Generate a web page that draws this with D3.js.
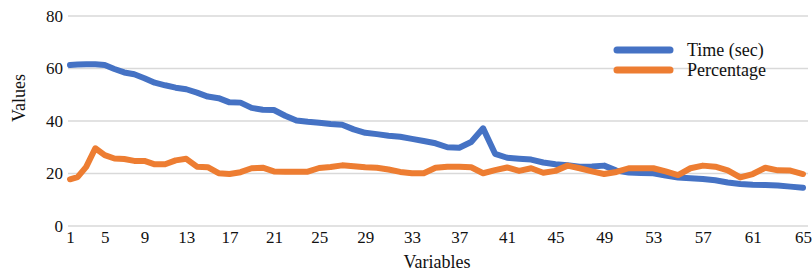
<!DOCTYPE html>
<html>
<head>
<meta charset="utf-8">
<script src="https://cdn.jsdelivr.net/npm/d3@7"></script>
<style>
  html, body { margin: 0; padding: 0; background: #fff; }
  svg { display: block; font-family: "Liberation Serif", "Times New Roman", serif; }
</style>
</head>
<body>
<svg id="chart" width="812" height="280"></svg>
<script>
// ---- data ----
const categories = [1,2,3,4,5,6,7,8,9,10,11,12,13,14,15,16,17,18,19,20,21,22,23,24,25,26,27,28,29,30,31,32,33,34,35,36,37,38,39,40,41,42,43,44,45,46,47,48,49,50,51,52,53,54,55,56,57,58,59,60,61,62,63,64,65];
const timeSec = [61.3,61.5,61.6,61.6,61.3,59.8,58.5,57.8,56.3,54.6,53.6,52.7,52.1,50.8,49.3,48.7,47.1,47.0,45.0,44.3,44.2,42.0,40.2,39.7,39.3,38.9,38.6,36.8,35.5,35.0,34.4,34.0,33.2,32.4,31.5,30.0,29.8,32.0,37.2,27.5,26.0,25.6,25.3,24.2,23.5,23.1,22.6,22.7,23.0,21.1,20.4,20.2,20.1,19.2,18.5,18.2,17.9,17.4,16.6,16.0,15.7,15.6,15.4,15.0,14.6];
const percentage = [17.8,18.6,22.5,29.6,27.0,25.7,25.5,24.8,24.8,23.5,23.5,25.0,25.6,22.6,22.4,20.1,19.8,20.5,22.0,22.2,20.8,20.7,20.7,20.7,22.1,22.5,23.1,22.8,22.4,22.2,21.5,20.6,20.1,20.1,22.2,22.6,22.6,22.4,20.1,21.3,22.3,21.0,22.0,20.3,21.0,23.0,22.0,20.8,19.8,20.6,22.0,22.0,22.0,20.8,19.4,22.0,23.0,22.6,21.2,18.5,19.8,22.2,21.2,21.1,19.8];
const xTickLabels = [1,5,9,13,17,21,25,29,33,37,41,45,49,53,57,61,65];
const yTickLabels = [0,20,40,60,80];
const seriesNames = ["Time (sec)", "Percentage"];
const seriesColors = ["#4472C4", "#ED7D31"];

// ---- layout ----
const svg = d3.select("#chart");
const plotLeft = 68, plotRight = 808;
const xs = d3.scalePow().exponent(1.1).domain([0, 64]).range([70, 803]);
const x = d => xs(d - 1);
const y = d3.scaleLinear().domain([0, 80]).range([226, 16]);

const defs = svg.append("defs");
defs.append("filter").attr("id", "soft")
  .attr("filterUnits", "userSpaceOnUse")
  .attr("x", 0).attr("y", 0).attr("width", 812).attr("height", 280)
  .append("feGaussianBlur").attr("stdDeviation", 0.6);

// gridlines
svg.append("g").selectAll("line").data(yTickLabels).join("line")
  .attr("x1", plotLeft).attr("x2", plotRight)
  .attr("y1", d => y(d)).attr("y2", d => y(d))
  .attr("stroke", "#d9d9d9").attr("stroke-width", 1.3);

// y axis labels
const yAxis = svg.append("g").attr("transform", `translate(${plotLeft},0)`)
  .call(d3.axisLeft(y).tickValues(yTickLabels).tickSize(0).tickPadding(5));
yAxis.attr("font-family", "Liberation Serif, serif");
yAxis.select(".domain").remove();
yAxis.selectAll("text").attr("font-size", 17).attr("fill", "#111");

// x axis labels
const xAxis = svg.append("g").attr("transform", `translate(0,${y(0)})`)
  .call(d3.axisBottom(xs).tickValues(xTickLabels.map(v => v - 1)).tickFormat(v => v + 1).tickSize(0).tickPadding(5));
xAxis.attr("font-family", "Liberation Serif, serif");
xAxis.select(".domain").remove();
xAxis.selectAll("text").attr("font-size", 17).attr("fill", "#111");

// axis titles
svg.append("text").attr("x", 437).attr("y", 268).attr("text-anchor", "middle")
  .attr("font-size", 18).attr("fill", "#111").text("Variables");
svg.append("text").attr("transform", "translate(25,98) rotate(-90)")
  .attr("text-anchor", "middle").attr("font-size", 18).attr("fill", "#111").text("Values");

// lines
const line = d3.line().x((d, i) => x(categories[i])).y(d => y(d)).curve(d3.curveLinear);
[timeSec, percentage].forEach((s, k) => {
  svg.append("path").datum(s).attr("d", line)
    .attr("fill", "none").attr("stroke", seriesColors[k]).attr("stroke-width", 6)
    .attr("stroke-linejoin", "round").attr("stroke-linecap", "round")
    .attr("filter", "url(#soft)");
});

// legend
const legend = svg.append("g");
seriesNames.forEach((name, k) => {
  const ly = 50 + k * 20;
  legend.append("line").attr("x1", 617).attr("x2", 670).attr("y1", ly).attr("y2", ly)
    .attr("stroke", seriesColors[k]).attr("stroke-width", 7).attr("stroke-linecap", "round")
    .attr("filter", "url(#soft)");
  legend.append("text").attr("x", 687).attr("y", ly).attr("dy", "0.32em")
    .attr("font-size", 18).attr("fill", "#111").text(name);
});
</script>
</body>
</html>
